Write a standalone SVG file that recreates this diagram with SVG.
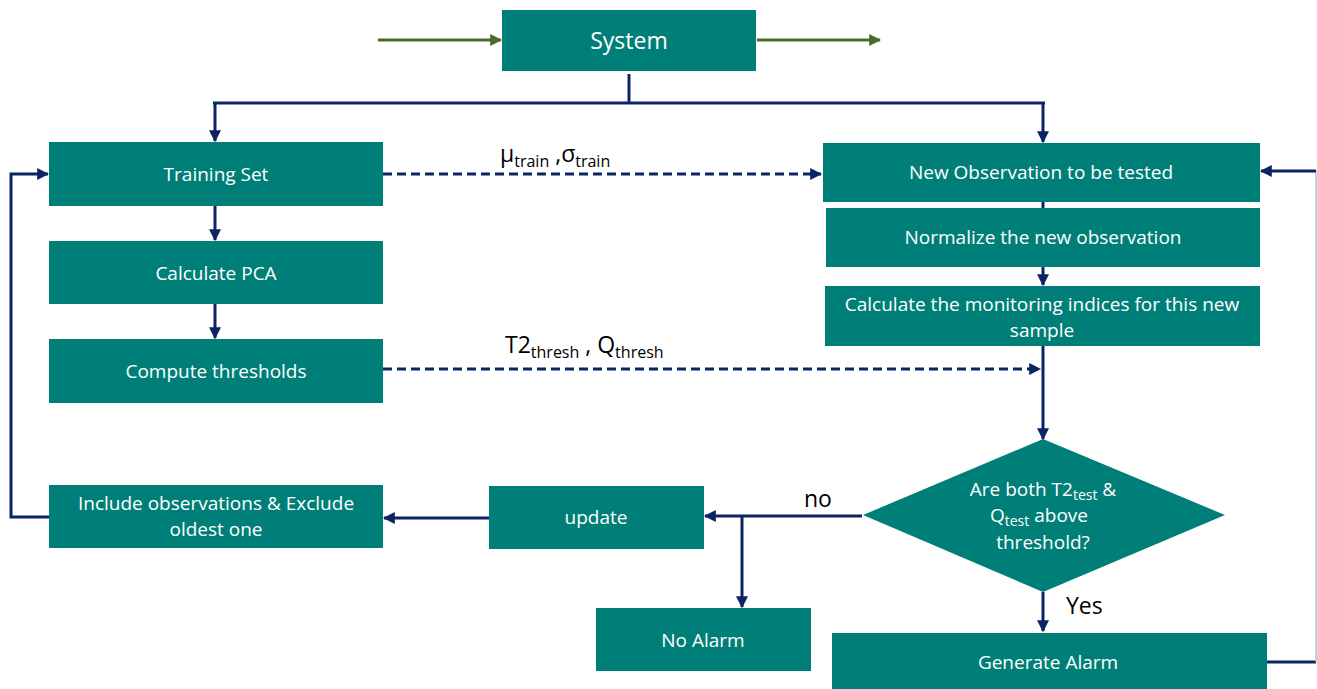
<svg xmlns="http://www.w3.org/2000/svg" width="1317" height="689" viewBox="0 0 1317 689">
<style>
.box{fill:#007F78}
.t{font-family:"Open Sans","Noto Sans",sans-serif;font-size:19px;fill:#ffffff;text-anchor:middle}
.lbl{font-family:"Open Sans","Noto Sans",sans-serif;font-size:23px;fill:#000000}
.sub{font-size:16px}
.ds{font-size:14px}
.ln{fill:none;stroke:#0B2463;stroke-width:3}
.dash{fill:none;stroke:#0B2463;stroke-width:3;stroke-dasharray:9 5}
.gr{fill:none;stroke:#4A6A2A;stroke-width:3}
</style>
<defs>
<marker id="ah" viewBox="0 0 10 10" refX="9" refY="5" markerWidth="4" markerHeight="4" orient="auto" markerUnits="strokeWidth"><path d="M0,0 L10,5 L0,10 z" fill="#0B2463"/></marker>
<marker id="ag" viewBox="0 0 10 10" refX="9" refY="5" markerWidth="4" markerHeight="4" orient="auto" markerUnits="strokeWidth"><path d="M0,0 L10,5 L0,10 z" fill="#4A6A2A"/></marker>
</defs>
<rect width="1317" height="689" fill="#ffffff"/>
<g id="connectors">
<path class="gr" d="M378,40 H501" marker-end="url(#ag)"/>
<path class="gr" d="M757,40 H880" marker-end="url(#ag)"/>
<path class="ln" d="M629,74 V103"/>
<path class="ln" d="M213,103 H1045"/>
<path class="ln" d="M215,103 V141" marker-end="url(#ah)"/>
<path class="ln" d="M1043,103 V142" marker-end="url(#ah)"/>
<path class="ln" d="M215,206 V240" marker-end="url(#ah)"/>
<path class="ln" d="M215,304 V338" marker-end="url(#ah)"/>
<path class="dash" d="M383,174 H821" marker-end="url(#ah)"/>
<path class="dash" d="M383,369 H1040" marker-end="url(#ah)"/>
<path class="ln" d="M1043,202 V208"/>
<path class="ln" d="M1043,267 V285" marker-end="url(#ah)"/>
<path class="ln" d="M1043,346 V439" marker-end="url(#ah)"/>
<path class="ln" d="M1043,592 V631" marker-end="url(#ah)"/>
<path class="ln" d="M862,516 H705" marker-end="url(#ah)"/>
<path class="ln" d="M742,516 V607" marker-end="url(#ah)"/>
<path class="ln" d="M489,518 H384" marker-end="url(#ah)"/>
<path class="ln" d="M49,517 H11 V174 H48" marker-end="url(#ah)"/>
<path class="ln" d="M1267,662 H1316"/>
<path fill="none" stroke="#B4BCD2" stroke-width="1.5" d="M1316,662 V171"/>
<path class="ln" d="M1316,171 H1261" marker-end="url(#ah)"/>
<text class="lbl" x="500" y="162">μ<tspan class="sub" dy="5">train</tspan><tspan dy="-5"> ,σ</tspan><tspan class="sub" dy="5">train</tspan></text>
<text class="lbl" x="505" y="353">T2<tspan class="sub" dy="5">thresh</tspan><tspan dy="-5"> , Q</tspan><tspan class="sub" dy="5">thresh</tspan></text>
<text class="lbl" x="804" y="507">no</text>
<text class="lbl" x="1066" y="614">Yes</text>
</g>
<g id="system"><rect class="box" x="502" y="10" width="254" height="61"/><text class="t" x="629" y="49" style="font-size:23px">System</text></g>
<g id="training"><rect class="box" x="49" y="142" width="334" height="64"/><text class="t" x="216" y="181">Training Set</text></g>
<g id="pca"><rect class="box" x="49" y="241" width="334" height="63"/><text class="t" x="216" y="280">Calculate PCA</text></g>
<g id="thresholds"><rect class="box" x="49" y="339" width="334" height="64"/><text class="t" x="216" y="378">Compute thresholds</text></g>
<g id="include"><rect class="box" x="49" y="485" width="334" height="63"/><text class="t" x="216" y="510">Include observations &amp; Exclude</text><text class="t" x="216" y="536">oldest one</text></g>
<g id="update"><rect class="box" x="489" y="486" width="215" height="63"/><text class="t" x="596" y="524">update</text></g>
<g id="noalarm"><rect class="box" x="596" y="608" width="215" height="63"/><text class="t" x="703" y="647">No Alarm</text></g>
<g id="newobs"><rect class="box" x="823" y="143" width="437" height="59"/><text class="t" x="1041" y="179">New Observation to be tested</text></g>
<g id="normalize"><rect class="box" x="826" y="208" width="434" height="59"/><text class="t" x="1043" y="244">Normalize the new observation</text></g>
<g id="indices"><rect class="box" x="825" y="286" width="435" height="60"/><text class="t" x="1042" y="311">Calculate the monitoring indices for this new</text><text class="t" x="1042" y="337">sample</text></g>
<g id="decision"><polygon class="box" points="1043,439 1225,515 1043,592 863,515"/>
<text class="t" x="1043" y="496">Are both T2<tspan class="ds" dy="4">test</tspan><tspan dy="-4"> &amp;</tspan></text>
<text class="t" x="1039" y="522">Q<tspan class="ds" dy="4">test</tspan><tspan dy="-4"> above</tspan></text>
<text class="t" x="1043" y="549">threshold?</text></g>
<g id="generate"><rect class="box" x="832" y="633" width="435" height="56"/><text class="t" x="1048" y="669">Generate Alarm</text></g>
</svg>
